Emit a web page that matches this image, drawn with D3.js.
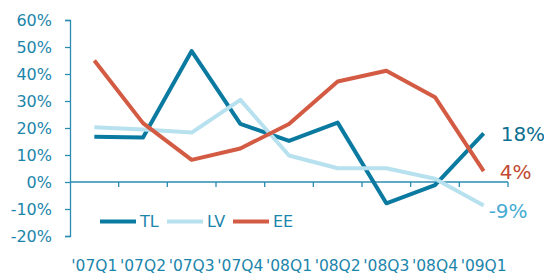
<!DOCTYPE html>
<html>
<head>
<meta charset="utf-8">
<script src="https://cdn.jsdelivr.net/npm/d3@7"></script>
<style>
  body { margin: 0; background: #fff; }
  svg { display: block; font-family: "DejaVu Sans", Verdana, sans-serif; }
</style>
</head>
<body>
<div id="chart"></div>
<script>
var svgWidth = 544;
var svgHeight = 275;

// data
var quarters = ["'07Q1", "'07Q2", "'07Q3", "'07Q4", "'08Q1", "'08Q2", "'08Q3", "'08Q4", "'09Q1"];
var tlValues = [16.8, 16.5, 48.5, 21.5, 15.2, 22, -7.9, -1.2, 18];
var lvValues = [20.3, 19.4, 18.3, 30.4, 9.8, 5.1, 5.1, 1.2, -8.7];
var eeValues = [45, 21.8, 8.2, 12.4, 21.5, 37.2, 41.2, 31.4, 4];
var yTicks = [-20, -10, 0, 10, 20, 30, 40, 50, 60];

var series = [
    { name: "TL", values: tlValues, color: "#0a7aa0", label: "18%", labelColor: "#0d6f91" },
    { name: "LV", values: lvValues, color: "#b7e1ee", label: "-9%", labelColor: "#47acd3" },
    { name: "EE", values: eeValues, color: "#d35b43", label: "4%", labelColor: "#c24a34" }
];

var margin = { left: 70, right: 36, top: 20, bottom: 39 };
var width = svgWidth - margin.left - margin.right;
var height = svgHeight - margin.top - margin.bottom;
var axisColor = "#2a8cb0";
var textColor = "#1c85ab";

var svg = d3.select("#chart")
    .append("svg")
    .attr("width", svgWidth)
    .attr("height", svgHeight);

var chartGroup = svg.append("g")
    .attr("transform", `translate(${margin.left}, ${margin.top})`);

var xScale = d3.scaleBand()
    .domain(quarters)
    .range([0, width]);

var yScale = d3.scaleLinear()
    .domain([-20, 60])
    .range([height, 0]);

// y axis
var leftAxis = d3.axisLeft(yScale)
    .tickValues(yTicks)
    .tickSize(5)
    .tickPadding(13)
    .tickFormat(d => d + "%");

var yAxisG = chartGroup.append("g").call(leftAxis);
yAxisG.select(".domain").attr("stroke", axisColor).attr("stroke-width", 1.3);
yAxisG.selectAll(".tick line").attr("stroke", axisColor).attr("stroke-width", 1.3);
yAxisG.selectAll(".tick text")
    .attr("fill", textColor)
    .attr("font-size", "16px")
    .attr("font-family", "DejaVu Sans, Verdana, sans-serif");

// x axis on the zero line, with band boundary ticks
var zeroG = chartGroup.append("g")
    .attr("transform", `translate(0, ${yScale(0)})`);
zeroG.append("line")
    .attr("x1", 0).attr("x2", width)
    .attr("stroke", axisColor).attr("stroke-width", 1.3);
zeroG.selectAll(".bt")
    .data(quarters)
    .enter()
    .append("line")
    .attr("class", "bt")
    .attr("x1", d => xScale(d) + xScale.bandwidth())
    .attr("x2", d => xScale(d) + xScale.bandwidth())
    .attr("y1", 0).attr("y2", 5)
    .attr("stroke", axisColor).attr("stroke-width", 1.3);

// x labels at the bottom
chartGroup.selectAll(".xlab")
    .data(quarters)
    .enter()
    .append("text")
    .attr("class", "xlab")
    .attr("x", d => xScale(d) + xScale.bandwidth() / 2)
    .attr("y", height + 35)
    .attr("text-anchor", "middle")
    .attr("fill", textColor)
    .attr("font-size", "15.5px")
    .text(d => d);

// lines (series order: EE ends up on top)
var line = d3.line()
    .x((d, i) => xScale(quarters[i]) + xScale.bandwidth() / 2)
    .y(d => yScale(d));

chartGroup.selectAll(".series")
    .data(series)
    .enter()
    .append("path")
    .attr("class", "series")
    .attr("d", d => line(d.values))
    .attr("fill", "none")
    .attr("stroke", d => d.color)
    .attr("stroke-width", 4)
    .attr("stroke-linejoin", "round");

// end labels
var lastX = xScale(quarters[quarters.length - 1]) + xScale.bandwidth() / 2;
var endOffsets = { TL: [17, 1], LV: [5, 6], EE: [16, 1] };
chartGroup.selectAll(".endlab")
    .data(series)
    .enter()
    .append("text")
    .attr("class", "endlab")
    .attr("x", d => lastX + endOffsets[d.name][0])
    .attr("y", d => yScale(d.values[d.values.length - 1]) + endOffsets[d.name][1])
    .attr("dy", "0.35em")
    .attr("fill", d => d.labelColor)
    .attr("font-size", "20px")
    .text(d => d.label);

// legend
var legend = chartGroup.append("g")
    .attr("transform", `translate(30, ${yScale(-14.6)})`);
var legendX = [0, 67, 133];
series.forEach(function (s, i) {
    var g = legend.append("g").attr("transform", `translate(${legendX[i]}, 0)`);
    g.append("line")
        .attr("x1", 0).attr("x2", 36)
        .attr("stroke", s.color).attr("stroke-width", 4);
    g.append("text")
        .attr("x", 40)
        .attr("dy", "0.36em")
        .attr("fill", textColor)
        .attr("font-size", "16px")
        .text(s.name);
});
</script>
</body>
</html>
